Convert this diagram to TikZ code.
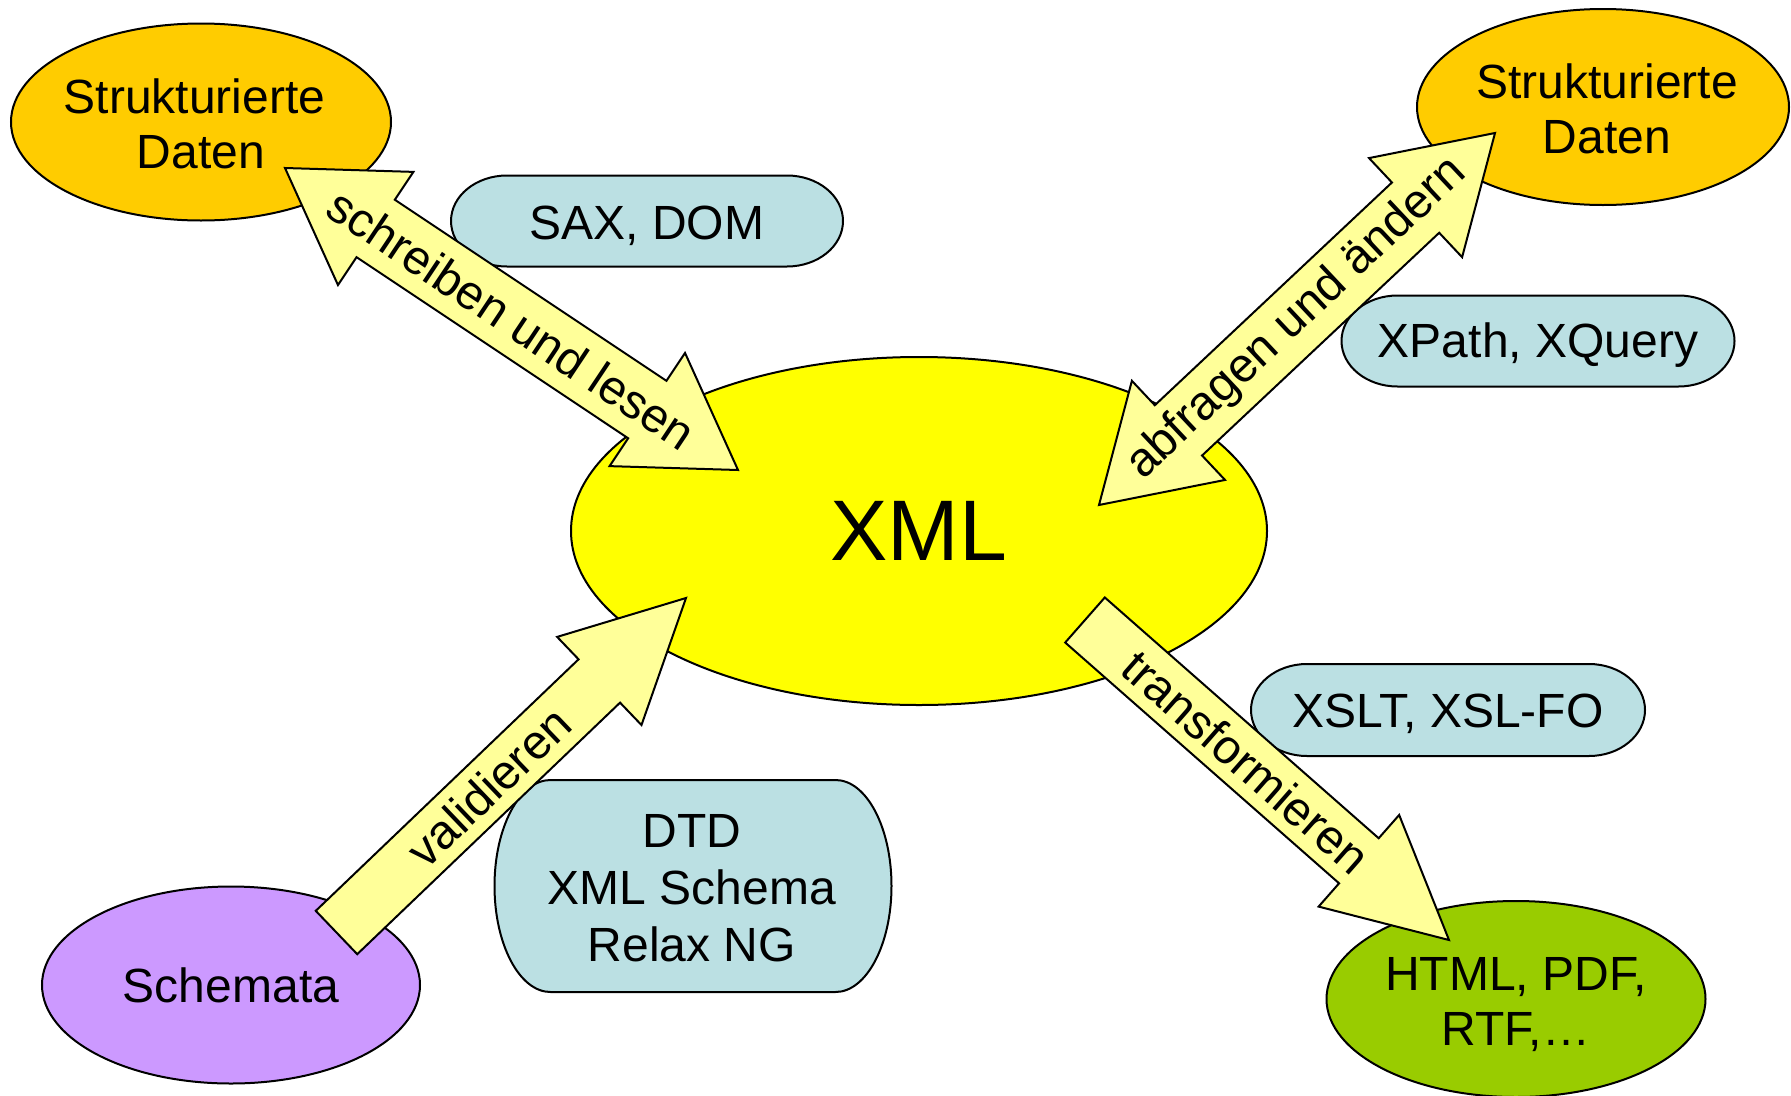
\documentclass[tikz,border=0pt]{standalone}
\usepackage{fontspec}
\setmainfont{Liberation Sans}
\usetikzlibrary{shapes.geometric,calc}
\definecolor{orangeY}{HTML}{FFCC00}
\definecolor{xmlY}{HTML}{FFFF00}
\definecolor{lavender}{HTML}{CC99FF}
\definecolor{greenY}{HTML}{99CC00}
\definecolor{boxblue}{HTML}{BBE0E3}
\definecolor{arrowfill}{HTML}{FFFF99}
\tikzset{
  every node/.style={font=\fontsize{48}{55}\selectfont},
  blob/.style={ellipse, draw=black, line width=2pt, inner sep=0pt},
  bluebox/.style={fill=boxblue, draw=black, line width=2pt},
  boxtext/.style={align=center, inner sep=0pt},
  blockarrow/.style={fill=arrowfill, draw=black, line width=2pt, line join=miter},
  lbl/.style={sloped, inner sep=0pt}
}
% capsule: cx, cy, w, h
\newcommand\capsule[4]{%
  \path[bluebox] ({#1-#3/2+56},{#2-#4/2}) -- ({#1+#3/2-56},{#2-#4/2})
    arc[start angle=-90, end angle=90, x radius=56, y radius={#4/2}]
    -- ({#1-#3/2+56},{#2+#4/2})
    arc[start angle=90, end angle=270, x radius=56, y radius={#4/2}] -- cycle;}
% double block arrow: A, B, half shaft, half head, head length
\newcommand\dblarrow[5]{%
  \path[blockarrow] (#1)
    -- ($(#1)!#5!(#2)!#4!90:(#2)$)
    -- ($(#1)!#5!(#2)!#3!90:(#2)$)
    -- ($(#2)!#5!(#1)!#3!-90:(#1)$)
    -- ($(#2)!#5!(#1)!#4!-90:(#1)$)
    -- (#2)
    -- ($(#2)!#5!(#1)!#4!90:(#1)$)
    -- ($(#2)!#5!(#1)!#3!90:(#1)$)
    -- ($(#1)!#5!(#2)!#3!-90:(#2)$)
    -- ($(#1)!#5!(#2)!#4!-90:(#2)$)
    -- cycle;}
% single block arrow: tail, tip, half shaft, half head, head length
\newcommand\sglarrow[5]{%
  \path[blockarrow] ($(#1)!#3!90:(#2)$)
    -- ($(#2)!#5!(#1)!#3!-90:(#1)$)
    -- ($(#2)!#5!(#1)!#4!-90:(#1)$)
    -- (#2)
    -- ($(#2)!#5!(#1)!#4!90:(#1)$)
    -- ($(#2)!#5!(#1)!#3!90:(#1)$)
    -- ($(#1)!#3!-90:(#2)$)
    -- cycle;}
\begin{document}
\begin{tikzpicture}[x=1pt,y=-1pt]
\useasboundingbox (0,0) rectangle (1791,1095);
% ellipses
\node[blob, fill=orangeY, minimum width=380pt, minimum height=197pt] (sd1) at (201,122) {};
\node[boxtext] (sd1t) at (201,124) {Strukturierte\hspace*{13pt}\\Daten};
\node[blob, fill=orangeY, minimum width=372pt, minimum height=196pt] (sd2) at (1603,107) {};
\node[boxtext] (sd2t) at (1607,109) {Strukturierte\\Daten};
\node[blob, fill=xmlY, minimum width=696pt, minimum height=348pt] (xml) at (919,531) {};
\node[boxtext, font=\fontsize{86}{90}\selectfont] (xmlt) at (919,531) {XML};
\node[blob, fill=lavender, minimum width=378pt, minimum height=197pt] (schema) at (231,985) {};
\node[boxtext] (schemat) at (231,985) {Schemata};
\node[blob, fill=greenY, minimum width=379pt, minimum height=196pt] (out) at (1516,999) {};
\node[boxtext] (outt) at (1516,1005) {HTML, PDF,\\RTF,…};
% blue boxes
\capsule{647}{221}{392}{91}
\node[boxtext] (sax) at (647,225.5) {SAX, DOM};
\capsule{1538}{341}{393}{91}
\node[boxtext] (xpath) at (1538,345.5) {XPath, XQuery};
\capsule{1448}{710}{394}{92}
\node[boxtext] (xslt) at (1448,713.5) {XSLT, XSL-FO};
\capsule{693}{886}{397}{212}
\node[boxtext, font=\fontsize{48}{57}\selectfont] (dtd) at (692,888.5) {DTD\\XML Schema\\Relax NG};
% arrows
\coordinate (a1s) at (285,168);
\coordinate (a1e) at (738,470);
\dblarrow{a1s}{a1e}{34.5pt}{68pt}{109pt}
\path (a1s) -- (a1e) node[midway, lbl] (l1) {schreiben und lesen};
\coordinate (a2s) at (1099,505);
\coordinate (a2e) at (1495,133);
\dblarrow{a2s}{a2e}{34.5pt}{68pt}{109pt}
\path (a2s) -- (a2e) node[midway, lbl] (l2) {abfragen und ändern};
\coordinate (a3s) at (336.5,932.5);
\coordinate (a3e) at (686,598);
\sglarrow{a3s}{a3e}{30pt}{61pt}{120pt}
\path (a3s) -- (a3e) node[pos=0.436, lbl] (l3) {validieren};
\coordinate (a4s) at (1085,620);
\coordinate (a4e) at (1449,940);
\sglarrow{a4s}{a4e}{30pt}{61pt}{120pt}
\path (a4s) -- (a4e) node[pos=0.443, lbl] (l4) {transformieren};
\end{tikzpicture}
\end{document}
